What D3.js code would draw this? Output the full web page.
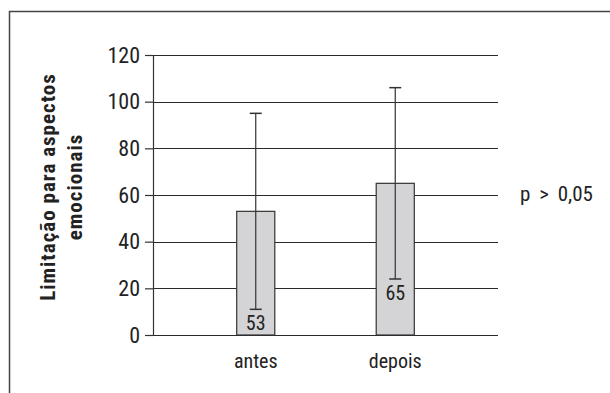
<!DOCTYPE html>
<html>
<head>
<meta charset="utf-8">
<script src="https://cdn.jsdelivr.net/npm/d3@7"></script>
<style>
  body { margin: 0; background: #fff; }
  svg text { font-family: "Liberation Sans Narrow", "Arial Narrow", "Roboto Condensed", "Liberation Sans", sans-serif; fill: #222; }
</style>
</head>
<body>
<div id="chart"></div>
<script>
// data
var categories = ["antes", "depois"];
var means = [53, 65];
var upper = [95, 106];
var lower = [11, 24];
var yTicks = [0, 20, 40, 60, 80, 100, 120];
var yTitle = ["Limitação para aspectos", "emocionais"];
var pText = "p > 0,05";

var width = 610, height = 393;
var margin = { top: 55, right: 112, bottom: 58, left: 153 };
var innerW = width - margin.left - margin.right,
    innerH = height - margin.top - margin.bottom;

var svg = d3.select("#chart").append("svg")
    .attr("width", width)
    .attr("height", height);

// outer frame (top and left edges only)
svg.append("path")
    .attr("d", "M9.5,393 V11.5 H610")
    .attr("fill", "none")
    .attr("stroke", "#444")
    .attr("stroke-width", 1.5);

var g = svg.append("g")
    .attr("transform", "translate(" + margin.left + "," + margin.top + ")");

var x = d3.scaleBand()
    .domain(categories)
    .range([0, innerW])
    .paddingInner(0.727)
    .paddingOuter(0.6);

var y = d3.scaleLinear()
    .domain([0, 120])
    .range([innerH, 0]);

// gridlines
g.selectAll(".grid")
    .data(yTicks)
    .enter().append("line")
    .attr("class", "grid")
    .attr("x1", 0)
    .attr("x2", innerW)
    .attr("y1", function(d) { return Math.round(y(d)) + 0.5; })
    .attr("y2", function(d) { return Math.round(y(d)) + 0.5; })
    .attr("stroke", "#2a2a2a")
    .attr("stroke-width", 1.2);

// y axis
var yAxis = d3.axisLeft(y)
    .tickValues(yTicks)
    .tickSize(8)
    .tickPadding(5);

var yAxisG = g.append("g").call(yAxis);
yAxisG.select(".domain").attr("stroke", "#333").attr("stroke-width", 1.2);
yAxisG.selectAll(".tick line").attr("stroke", "#333").attr("stroke-width", 1.2);
yAxisG.selectAll("text")
    .style("font-size", "22px")
    .attr("fill", "#222");

// bars
g.selectAll(".bar")
    .data(categories)
    .enter().append("rect")
    .attr("class", "bar")
    .attr("x", function(d) { return x(d); })
    .attr("width", x.bandwidth())
    .attr("y", function(d, i) { return y(means[i]); })
    .attr("height", function(d, i) { return innerH - y(means[i]); })
    .attr("fill", "#d4d4d6")
    .attr("stroke", "#333")
    .attr("stroke-width", 1.2);

// error bars
var cap = 6;
var eb = g.selectAll(".err")
    .data(categories)
    .enter().append("g")
    .attr("class", "err")
    .attr("transform", function(d) { return "translate(" + (x(d) + x.bandwidth() / 2) + ",0)"; });

eb.append("line")
    .attr("y1", function(d, i) { return y(upper[i]); })
    .attr("y2", function(d, i) { return y(lower[i]); })
    .attr("stroke", "#333")
    .attr("stroke-width", 1.2);
eb.append("line")
    .attr("x1", -cap).attr("x2", cap)
    .attr("y1", function(d, i) { return y(upper[i]); })
    .attr("y2", function(d, i) { return y(upper[i]); })
    .attr("stroke", "#333").attr("stroke-width", 1.5);
eb.append("line")
    .attr("x1", -cap).attr("x2", cap)
    .attr("y1", function(d, i) { return y(lower[i]); })
    .attr("y2", function(d, i) { return y(lower[i]); })
    .attr("stroke", "#333").attr("stroke-width", 1.5);

// mean labels under the lower whisker
eb.append("text")
    .attr("text-anchor", "middle")
    .attr("y", function(d, i) { return y(lower[i]) + 21; })
    .style("font-size", "20px")
    .text(function(d, i) { return means[i]; });

// category labels
g.selectAll(".cat")
    .data(categories)
    .enter().append("text")
    .attr("class", "cat")
    .attr("text-anchor", "middle")
    .attr("x", function(d) { return x(d) + x.bandwidth() / 2; })
    .attr("y", innerH + 33)
    .style("font-size", "20px")
    .text(function(d) { return d; });

// y title
var title = svg.append("text")
    .attr("transform", "translate(48,187) rotate(-90)")
    .attr("text-anchor", "middle")
    .style("font-size", "21px")
    .style("font-weight", "bold")
    .style("letter-spacing", "1px");
title.selectAll("tspan")
    .data(yTitle)
    .enter().append("tspan")
    .attr("x", 0)
    .attr("y", function(d, i) { return 7 + i * 27; })
    .text(function(d) { return d; });

// significance note
svg.append("text")
    .attr("x", 520)
    .attr("y", 201)
    .style("font-size", "21px")
    .style("word-spacing", "4px")
    .text(pText);
</script>
</body>
</html>
